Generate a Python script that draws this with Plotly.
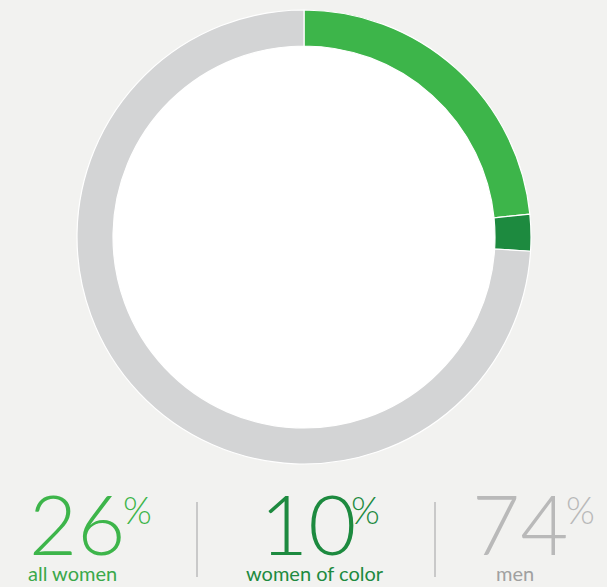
import plotly.graph_objects as go

# ---- data ----
segments = ["all women (excl. women of color)", "women of color", "men"]
shares = [23.4, 2.6, 74.0]
seg_colors = ["#3db54a", "#1d8a3f", "#d3d4d5"]

stat_values = ["26", "10", "74"]
stat_labels = ["all women", "women of color", "men"]
stat_colors = ["#3db54a", "#1d8a3f", "#b9b9b9"]
label_colors = ["#3aa84a", "#1d8a3f", "#a0a0a0"]

W, H = 607, 587
BG = "#f2f2f0"

cx, cy, R = 304, 237, 227
hole_frac = 191 / 227


def px(x):
    return x / W


def py(y):
    return 1 - y / H


fig = go.Figure()
fig.add_trace(go.Pie(
    labels=segments,
    values=shares,
    sort=False,
    direction="clockwise",
    rotation=0,
    hole=hole_frac,
    marker=dict(colors=seg_colors, line=dict(color="#ffffff", width=1.2)),
    textinfo="none",
    hoverinfo="label+percent",
    showlegend=False,
    domain=dict(x=[px(cx - R), px(cx + R)], y=[py(cy + R), py(cy - R)]),
))

shapes = [
    dict(type="circle", xref="paper", yref="paper",
         xsizemode="pixel", ysizemode="pixel",
         xanchor=px(cx), yanchor=py(cy),
         x0=-(R * hole_frac), x1=(R * hole_frac),
         y0=-(R * hole_frac), y1=(R * hole_frac),
         fillcolor="#ffffff", line=dict(width=0), layer="below"),
]
for sx in [197, 435]:
    shapes.append(dict(type="line", xref="paper", yref="paper",
                       x0=px(sx), x1=px(sx), y0=py(502), y1=py(577),
                       line=dict(color="#c9c9c9", width=2)))

num_cx = [77, 308, 520]
pct_cx = [137, 365, 580]
lab_cx = [72, 315, 515]

annotations = []
FONT = "Lato"
for i in range(3):
    annotations.append(dict(
        text=stat_values[i], xref="paper", yref="paper",
        x=px(num_cx[i]), y=py(523), xanchor="center", yanchor="middle",
        showarrow=False,
        font=dict(family=FONT, size=83, color=stat_colors[i], weight=300)))
    annotations.append(dict(
        text="%", xref="paper", yref="paper",
        x=px(pct_cx[i]), y=py(509), xanchor="center", yanchor="middle",
        showarrow=False,
        font=dict(family=FONT, size=37, color=stat_colors[i], weight=300)))
    annotations.append(dict(
        text=stat_labels[i], xref="paper", yref="paper",
        x=px(lab_cx[i]), y=0, xanchor="center", yanchor="bottom",
        showarrow=False,
        font=dict(family=FONT, size=20, color=label_colors[i])))

fig.update_layout(
    width=W, height=H,
    margin=dict(l=0, r=0, t=0, b=0),
    paper_bgcolor=BG, plot_bgcolor=BG,
    shapes=shapes,
    annotations=annotations,
)

fig.write_html(
    "out.html",
    config={"displayModeBar": False},
    post_script="document.body.style.margin='0';document.body.style.background='" + BG + "';",
)
